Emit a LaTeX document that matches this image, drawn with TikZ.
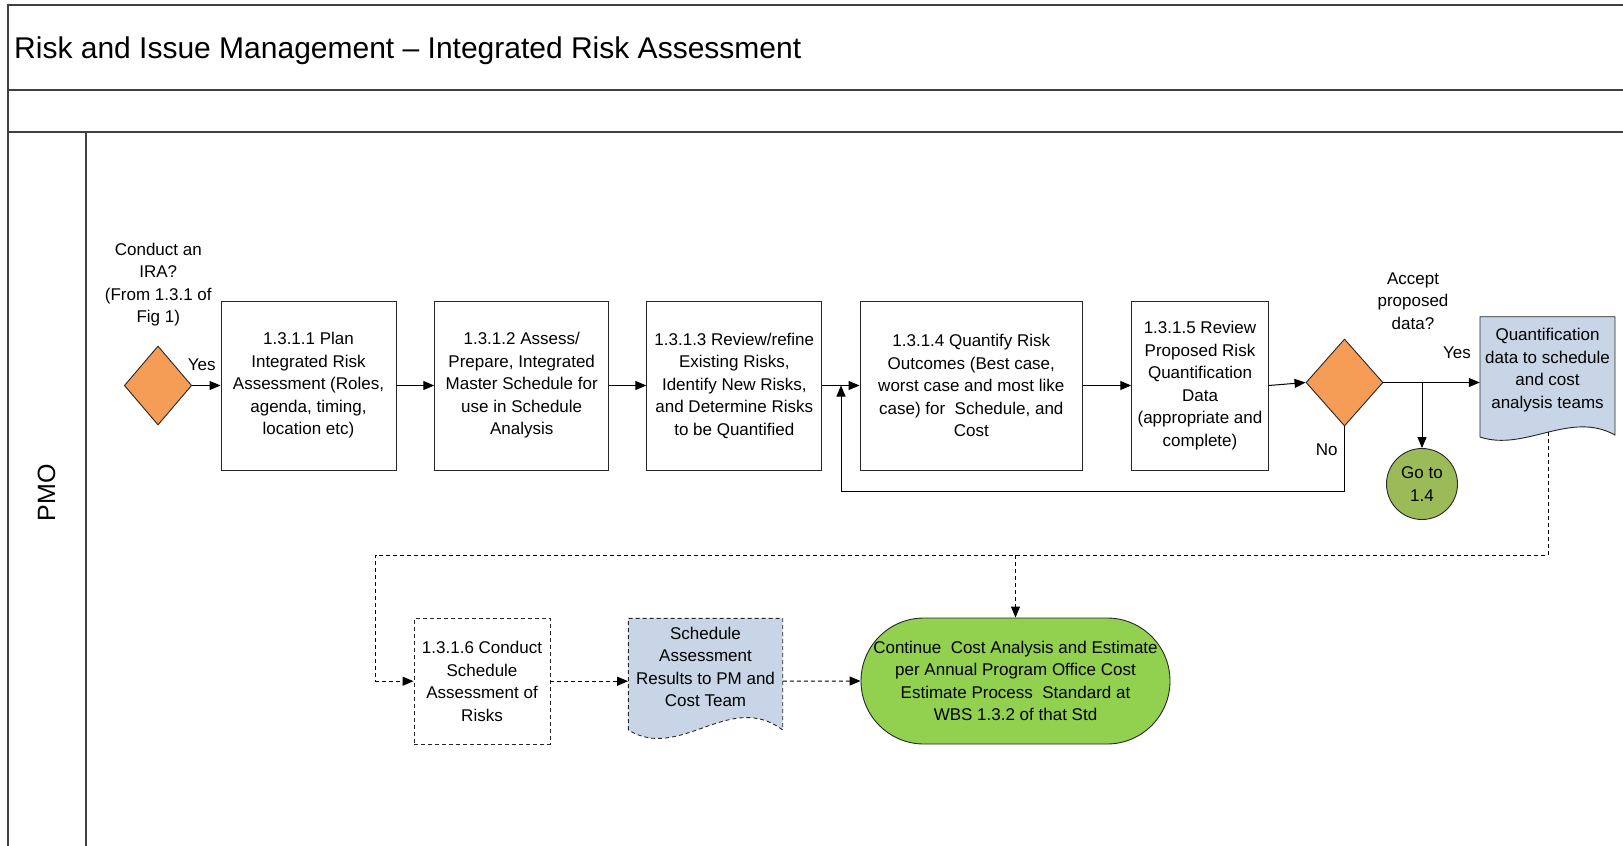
\documentclass[tikz,border=0pt]{standalone}
\usepackage{fontspec}
\setmainfont{Liberation Sans}
\usetikzlibrary{shapes.geometric,arrows.meta,calc}
\definecolor{orng}{HTML}{F59D56}
\definecolor{gocirc}{HTML}{9BBB59}
\definecolor{termg}{HTML}{92D050}
\definecolor{docb}{HTML}{C8D5E6}
\definecolor{framec}{HTML}{404040}
\newcommand\bodyfont{\fontsize{17pt}{22.5pt}\selectfont}
\begin{document}
\begin{tikzpicture}[x=1pt,y=-1pt,
 every node/.style={font=\bodyfont, inner sep=0pt, align=center},
 procbox/.style={draw=black!85, line width=0.9pt, fill=white, rectangle},
 dprocbox/.style={procbox, dash pattern=on 4pt off 3pt},
 decision/.style={diamond, draw=black!85, line width=0.9pt, fill=orng},
 shapeline/.style={draw=black!85, line width=0.9pt},
 arr/.style={line width=1pt, -{Triangle[length=11pt,width=9pt]}},
 darr/.style={arr, dash pattern=on 4pt off 3pt},
 lanelines/.style={line width=2pt, draw=framec}]
\useasboundingbox (0,0) rectangle (1623,846);
% frame
\draw[lanelines] (8,846) -- (8,5) -- (1623,5);
\draw[lanelines] (8,90) -- (1623,90);
\draw[lanelines] (8,131.5) -- (1623,131.5);
\draw[lanelines] (86,131.5) -- (86,846);
\node[anchor=base west, font=\fontsize{30pt}{36pt}\selectfont] (title) at (14,58) {Risk and Issue Management -- Integrated Risk Assessment};
\node[rotate=90, font=\fontsize{25pt}{30pt}\selectfont] (pmo) at (46.5,493) {PMO};

% top row
\node[decision, minimum width=67.4pt, minimum height=79pt] (d1) at (158,385.5) {};
\node (q1) at (158.3,284.5) {Conduct an\\IRA?\\(From 1.3.1 of\\Fig 1)};
\node (yes1) at (201.7,365) {Yes};
\node[procbox, minimum width=175pt, minimum height=169pt] (b1) at (308.5,385.5) {1.3.1.1 Plan\\Integrated Risk\\Assessment (Roles,\\agenda, timing,\\location etc)};
\node[procbox, minimum width=174pt, minimum height=169pt] (b2) at (521.7,385.5) {1.3.1.2 Assess/\\Prepare, Integrated\\Master Schedule for\\use in Schedule\\Analysis};
\node[procbox, minimum width=175pt, minimum height=169pt] (b3) at (734.3,385.5) {1.3.1.3 Review/refine\\Existing Risks,\\Identify New Risks,\\and Determine Risks\\to be Quantified};
\node[procbox, minimum width=222.7pt, minimum height=169pt] (b4) at (971.3,385.5) {1.3.1.4 Quantify Risk\\Outcomes (Best case,\\worst case and most like\\case) for\ \ Schedule, and\\Cost};
\node[procbox, minimum width=136.6pt, minimum height=169pt] (b5) at (1200,385.5) {1.3.1.5 Review\\Proposed Risk\\Quantification\\Data\\(appropriate and\\complete)};
\node[decision, minimum width=77pt, minimum height=87pt] (d2) at (1344.5,382.5) {};
\node (q2) at (1413,301) {Accept\\proposed\\data?};
\node (yes2) at (1457,352.7) {Yes};
\node (no2) at (1326.7,450) {No};
\node[circle, draw=black!85, line width=0.9pt, fill=gocirc, minimum size=71pt] (go) at (1422,484) {Go to\\1.4};

% document 1
\node[minimum width=135pt, minimum height=120pt] (doc1) at (1547.5,377) {};
\filldraw[shapeline, fill=docb] (1480,437) -- (1480,316.7) -- (1615,316.7) -- (1615,435)
  .. controls (1570,410) and (1525,452) .. cycle;
\node (doc1t) at (1547.5,370) {Quantification\\data to schedule\\and cost\\analysis teams};

% bottom row
\node[dprocbox, minimum width=136pt, minimum height=125.7pt] (b6) at (482,681.2) {1.3.1.6 Conduct\\Schedule\\Assessment of\\Risks};
\node[minimum width=154.4pt, minimum height=111.7pt] (doc2) at (705.5,674) {};
\filldraw[shapeline, fill=docb, dash pattern=on 4pt off 3pt] (628.3,730) -- (628.3,618.3) -- (782.7,618.3) -- (782.7,730)
  .. controls (730,690) and (680,762) .. cycle;
\node (doc2t) at (705.5,667) {Schedule\\Assessment\\Results to PM and\\Cost Team};
\node[draw=black!85, line width=0.9pt, fill=termg, rectangle, rounded corners=62.9pt, minimum width=309pt, minimum height=126pt] (term) at (1015.5,681) {Continue\ \ Cost Analysis and Estimate\\per Annual Program Office Cost\\Estimate Process\ \ Standard at\\WBS 1.3.2 of that Std};

% connectors
\draw[arr] (d1.east) -- (b1.west);
\draw[arr] (b1.east) -- (b2.west);
\draw[arr] (b2.east) -- (b3.west);
\draw[arr] (b3.east) -- (b4.west);
\draw[arr] (b4.east) -- (b5.west);
\draw[arr] (b5.east) -- (d2.west);
\draw[arr] (d2.east) -- (d2.east -| doc1.west);
\draw[arr] (d2.east -| go.north) -- (go.north);
\coordinate (fb) at (841,491);
\draw[arr] (d2.south) |- (fb) -- (fb |- b4.west);
\coordinate (dtop) at (1548.3,432);
\coordinate (dj) at (375.7,555);
\draw[darr] (dtop) |- (dj) |- (b6.west);
\draw[darr] (term.north |- dj) -- (term.north);
\draw[darr] (b6.east) -- (b6.east -| doc2.west);
\draw[darr] (b6.east -| doc2.east) -- (term.west);
\end{tikzpicture}
\end{document}
